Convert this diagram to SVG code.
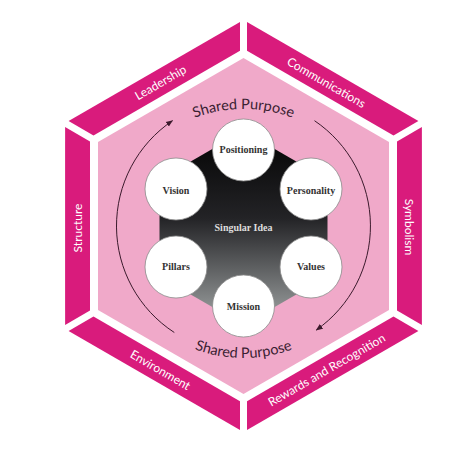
<svg xmlns="http://www.w3.org/2000/svg" xmlns:xlink="http://www.w3.org/1999/xlink" width="474" height="454" viewBox="0 0 474 454">
<style>
.band{fill:#d91b7c}
.bt{fill:#ffffff;font-family:Lato,"Open Sans",sans-serif;font-size:12px;text-anchor:middle;dominant-baseline:central}
.sp{fill:#3a2132;font-family:Lato,"Open Sans",sans-serif;font-size:14.5px;text-anchor:middle}
.node circle{fill:#ffffff;stroke:#8a8a8a;stroke-width:0.8}
.nt{fill:#333333;font-family:"Liberation Serif",serif;font-weight:bold;font-size:10px;text-anchor:middle;dominant-baseline:central}
.arc{fill:none;stroke:#3b1a2c;stroke-width:1}
</style>
<defs>
<linearGradient id="dark" x1="0" y1="0" x2="0" y2="1">
<stop offset="0" stop-color="#030303"/>
<stop offset="0.45" stop-color="#232326"/>
<stop offset="1" stop-color="#a2a6a6"/>
</linearGradient>
<marker id="ah" viewBox="0 0 10 10" refX="9" refY="5" markerWidth="7" markerHeight="7" orient="auto" markerUnits="userSpaceOnUse">
<path d="M0,1 L10,5 L0,9 z" fill="#3b1a2c"/>
</marker>
<path id="topArc" d="M 144.5,150 A 140,140 0 0,1 342.5,150"/>
<path id="botArc" d="M 144.5,317 A 140,140 0 0,0 342.5,317"/>
</defs>
<rect width="474" height="454" fill="#ffffff"/>

<g id="leadership">
<polygon class="band" points="68.6,121 240,22 240,50.8 93.5,135.4"/>
<text class="bt" transform="translate(160.5,82.3) rotate(-30)">Leadership</text>
</g>
<g id="communications">
<polygon class="band" points="247,22 418.4,121 393.5,135.4 247,50.8"/>
<text class="bt" transform="translate(326.5,82.3) rotate(30)">Communications</text>
</g>
<g id="symbolism">
<polygon class="band" points="421.9,127 421.9,325 397,310.6 397,141.4"/>
<text class="bt" transform="translate(409.5,227) rotate(90)">Symbolism</text>
</g>
<g id="rewards">
<polygon class="band" points="418.4,331 247,430 247,401.2 393.5,316.6"/>
<text class="bt" transform="translate(326.5,369.7) rotate(-30)">Rewards and Recognition</text>
</g>
<g id="environment">
<polygon class="band" points="240,430 68.6,331 93.5,316.6 240,401.2"/>
<text class="bt" transform="translate(160.5,369.7) rotate(30)">Environment</text>
</g>
<g id="structure">
<polygon class="band" points="65.1,325 65.1,127 90,141.4 90,310.6"/>
<text class="bt" transform="translate(77.5,228) rotate(-90)">Structure</text>
</g>

<g id="shared-purpose">
<polygon points="243.5,58 389,142 389,310 243.5,394 98,310 98,142" fill="#f0a9c9"/>
<text class="sp"><textPath xlink:href="#topArc" href="#topArc" startOffset="50%">Shared Purpose</textPath></text>
<text class="sp"><textPath xlink:href="#botArc" href="#botArc" startOffset="50%">Shared Purpose</textPath></text>
</g>

<g id="connectors">
<path class="arc" d="M 174.3,332.5 A 127,127 0 0,1 172.5,120.7" marker-end="url(#ah)"/>
<path class="arc" d="M 314.5,120.7 A 127,127 0 0,1 316.3,330" marker-end="url(#ah)"/>
</g>

<g id="singular-idea">
<polygon points="243.5,131 327.5,179.5 327.5,276.5 243.5,325 159.5,276.5 159.5,179.5" fill="url(#dark)"/>
<text class="nt" x="243.5" y="227" fill="#e0e0e0" style="fill:#dddddd">Singular Idea</text>
</g>

<g id="positioning" class="node"><circle cx="243.5" cy="150" r="31"/><text class="nt" x="243.5" y="149">Positioning</text></g>
<g id="personality" class="node"><circle cx="311" cy="189" r="31"/><text class="nt" x="311" y="190">Personality</text></g>
<g id="values" class="node"><circle cx="311" cy="267" r="31"/><text class="nt" x="311" y="266">Values</text></g>
<g id="mission" class="node"><circle cx="243.5" cy="306" r="31"/><text class="nt" x="243.5" y="306">Mission</text></g>
<g id="pillars" class="node"><circle cx="176" cy="267" r="31"/><text class="nt" x="176" y="266">Pillars</text></g>
<g id="vision" class="node"><circle cx="176" cy="189" r="31"/><text class="nt" x="176" y="190">Vision</text></g>
</svg>
